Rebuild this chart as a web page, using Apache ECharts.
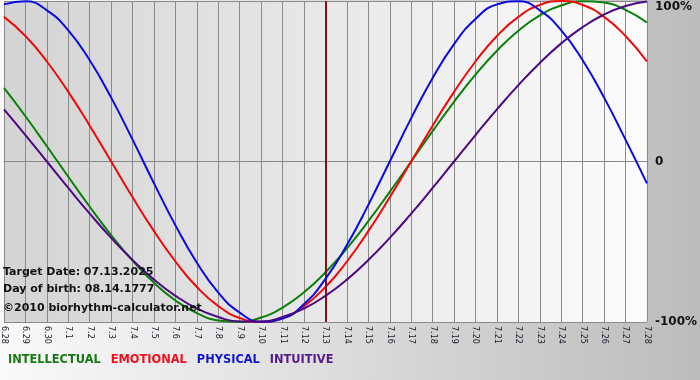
<!DOCTYPE html>
<html><head><meta charset="utf-8">
<script src="https://cdn.jsdelivr.net/npm/echarts@6/dist/echarts.min.js"></script>
<style>html,body{margin:0;padding:0;}#c{width:700px;height:380px;}</style>
</head><body><div id="c"></div>
<script>
const days = ['6.28','6.29','6.30','7.1','7.2','7.3','7.4','7.5','7.6','7.7','7.8','7.9','7.10','7.11','7.12','7.13','7.14','7.15','7.16','7.17','7.18','7.19','7.20','7.21','7.22','7.23','7.24','7.25','7.26','7.27','7.28'];
const intellectual = [45.8,28.2,9.5,-9.5,-28.2,-45.8,-61.8,-75.6,-86.6,-94.5,-99.0,-99.9,-97.2,-91.0,-81.5,-69.0,-54.1,-37.2,-18.9,0,18.9,37.2,54.1,69.0,81.5,91.0,97.2,99.9,99.0,94.5,86.6];
const emotional = [90.1,78.2,62.3,43.4,22.3,0,-22.3,-43.4,-62.3,-78.2,-90.1,-97.5,-100,-97.5,-90.1,-78.2,-62.3,-43.4,-22.3,0,22.3,43.4,62.3,78.2,90.1,97.5,100,97.5,90.1,78.2,62.3];
const physical = [97.9,99.8,94.2,81.7,63.1,39.8,13.6,-13.6,-39.8,-63.1,-81.7,-94.2,-99.8,-97.9,-88.8,-73.1,-52.0,-27.0,0,27.0,52.0,73.1,88.8,97.9,99.8,94.2,81.7,63.1,39.8,13.6,-13.6];
const intuitive = [32.5,16.5,0,-16.5,-32.5,-47.6,-61.4,-73.6,-83.7,-91.6,-96.9,-99.7,-99.7,-96.9,-91.6,-83.7,-73.6,-61.4,-47.6,-32.5,-16.5,0,16.5,32.5,47.6,61.4,73.6,83.7,91.6,96.9,99.7];
const seriesNames = ['INTELLECTUAL','EMOTIONAL','PHYSICAL','INTUITIVE'];
const yTickLabels = {'100':'100%','0':'0','-100':'-100%'};
const targetDay = '7.13';
const infoLines = ['Target Date: 07.13.2025','Day of birth: 08.14.1777','\u00a92010 biorhythm-calculator.net'];

const colors = ['#0a800a','#ee0a0a','#0a0ae0','#4b0a82'];
const legendColors = ['#157a15','#ee1020','#1515d0','#551a8b'];
const values = [intellectual, emotional, physical, intuitive];
const FONT = 'DejaVu Sans';

const chart = echarts.init(document.getElementById('c'), null, {renderer:'canvas'});
const series = seriesNames.map((n,i)=>({
  name:n, type:'line', data: values[i], smooth:true, symbol:'none',
  lineStyle:{color:colors[i], width:2}, itemStyle:{color:colors[i]}, z: 3+i,
  markLine: i===0 ? {silent:true, symbol:'none', label:{show:false},
    lineStyle:{color:'#801515', width:2, type:'solid'}, data:[{xAxis: targetDay}]} : undefined
}));

chart.setOption({
  animation:false,
  backgroundColor: new echarts.graphic.LinearGradient(0,0,1,0,[{offset:0,color:'#fafafa'},{offset:1,color:'#bcbcbc'}]),
  grid:{left:1, right:50, top:1, bottom:58, show:true, borderWidth:0,
    backgroundColor: new echarts.graphic.LinearGradient(0,0,1,0,[{offset:0,color:'#d4d4d4'},{offset:1,color:'#fcfcfc'}])},
  legend:{left:3, top:355, padding:0, icon:'rect', itemWidth:0, itemHeight:0, itemGap:5,
    selectedMode:false,
    textStyle:{fontFamily:FONT, fontWeight:'bold', fontSize:11.4},
    data: seriesNames.map((n,i)=>({name:n, textStyle:{color:legendColors[i]}}))},
  xAxis:{type:'category', data:days, boundaryGap:false,
    axisLine:{lineStyle:{color:'#888', width:1}},
    axisTick:{show:true, length:4, lineStyle:{color:'#888'}, interval:0},
    axisLabel:{interval:0, rotate:-90, fontFamily:FONT, fontSize:8, color:'#1a1a2a', margin:4},
    splitLine:{show:true, interval:0, lineStyle:{color:'#8a8a8a', width:1}}},
  yAxis:{type:'value', position:'right', min:-100, max:100, interval:100,
    axisLine:{show:false}, axisTick:{show:false},
    axisLabel:{margin:8, fontFamily:FONT, fontWeight:'bold', fontSize:12, color:'#111',
      formatter:v=>yTickLabels[String(v)], verticalAlignMaxLabel:'top'},
    splitLine:{show:true, lineStyle:{color:'#8a8a8a', width:1}}},
  graphic: infoLines.map((t,i)=>({type:'text', left:3, top:[267,284,303][i], z:100,
    style:{text:t, font:'bold 11px "DejaVu Sans"', fill:'#111'}})),
  series
});
</script></body></html>
